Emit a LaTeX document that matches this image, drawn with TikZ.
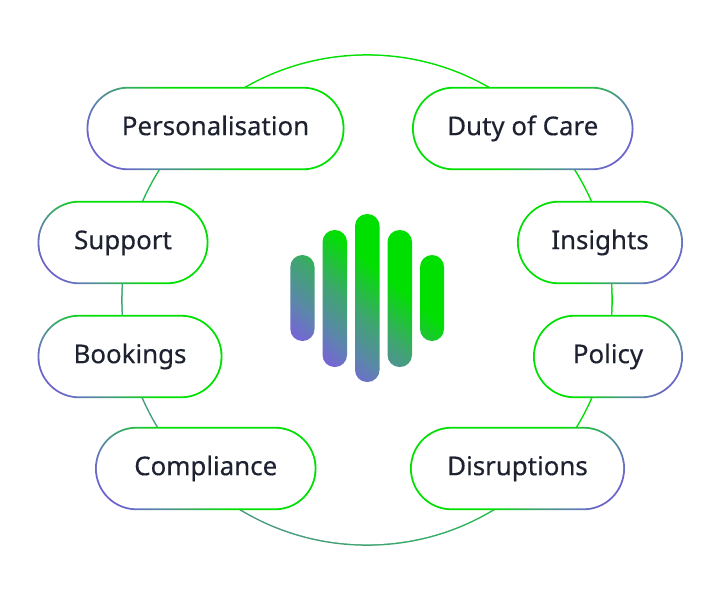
\documentclass[tikz,border=0pt]{standalone}
\usepackage{fontspec}
\setmainfont[FakeBold=0.35]{Noto Sans}
\usetikzlibrary{shapes.misc}
\definecolor{inkc}{HTML}{1E2230}
\definecolor{pur}{HTML}{7B5FDD}
\definecolor{ppur}{HTML}{6C64CC}
\definecolor{blu}{HTML}{5A88A8}
\definecolor{tea}{HTML}{3FA570}
\definecolor{grn}{HTML}{00E000}
\definecolor{rblu}{HTML}{5085A8}
\definecolor{rtea}{HTML}{4A9880}
\definecolor{rgrn}{HTML}{30B060}
\pgfdeclarehorizontalshading{pillgrad}{100bp}{color(0bp)=(ppur);color(22bp)=(ppur);color(30bp)=(blu);color(37bp)=(tea);color(48bp)=(grn);color(100bp)=(grn)}
\pgfdeclarehorizontalshading{bargrad}{100bp}{color(0bp)=(pur);color(25bp)=(pur);color(35bp)=(blu);color(45bp)=(tea);color(59bp)=(grn);color(100bp)=(grn)}
\pgfdeclarehorizontalshading{ringgrad}{100bp}{color(0bp)=(pur);color(9bp)=(pur);color(16bp)=(rblu);color(25bp)=(rtea);color(40bp)=(rgrn);color(54bp)=(grn);color(100bp)=(grn)}
\tikzset{
  x=0.75pt,y=-0.75pt,
  pillbase/.style={rounded rectangle,rounded rectangle arc length=180,inner sep=0pt,outer sep=0pt,minimum height=62.6pt},
  pilledge/.style={pillbase,shade,shading=pillgrad},
  edgeleft/.style={pilledge,shading angle=40},
  edgeright/.style={pilledge,shading angle=140},
  pilltext/.style={pillbase,fill=white,minimum height=59.8pt,text=inkc,font=\fontsize{19.4pt}{24pt}\selectfont,text height=14pt,text depth=4pt},
}
\newcommand{\pillnode}[6]{% name, side, left, right, cy, text
  \pgfmathsetmacro{\pw}{(#4-#3)*0.75}
  \pgfmathsetmacro{\pc}{(#3+#4)/2}
  \node[edge#2,minimum width=\pw pt] (#1edge) at (\pc,#5) {};
  \node[pilltext,minimum width=\pw pt-2.8pt] (#1) at (\pc,#5) {#6};
}
\begin{document}
\begin{tikzpicture}
\useasboundingbox (0,0) rectangle (720,600);
\fill[white] (0,0) rectangle (720,600);
% ring
\shade[shading=ringgrad,shading angle=45] (367,300) circle (245.8);
\fill[white] (367,300) circle (244.3);
% central bars
\shade[shading=bargrad,shading angle=50,rounded corners=9pt]
  (290.3,255) rectangle (314.5,341)
  (322.5,230) rectangle (347,367)
  (355,214) rectangle (379.5,382)
  (387.5,230) rectangle (412,367)
  (420,255) rectangle (444,341);
% pills
\pillnode{pers}{left}{86.5}{344.5}{128.5}{Personalisation}
\pillnode{duty}{right}{412}{633.5}{128.5}{Duty of Care}
\pillnode{supp}{left}{37.5}{208.5}{242.5}{Support}
\pillnode{insi}{right}{517}{683}{242.5}{Insights}
\pillnode{book}{left}{37.5}{222.5}{356.5}{Bookings}
\pillnode{poli}{right}{533}{683}{356.5}{Policy}
\pillnode{comp}{left}{95}{316.5}{468.5}{Compliance}
\pillnode{disr}{right}{410}{625}{468.5}{Disruptions}
\end{tikzpicture}
\end{document}
